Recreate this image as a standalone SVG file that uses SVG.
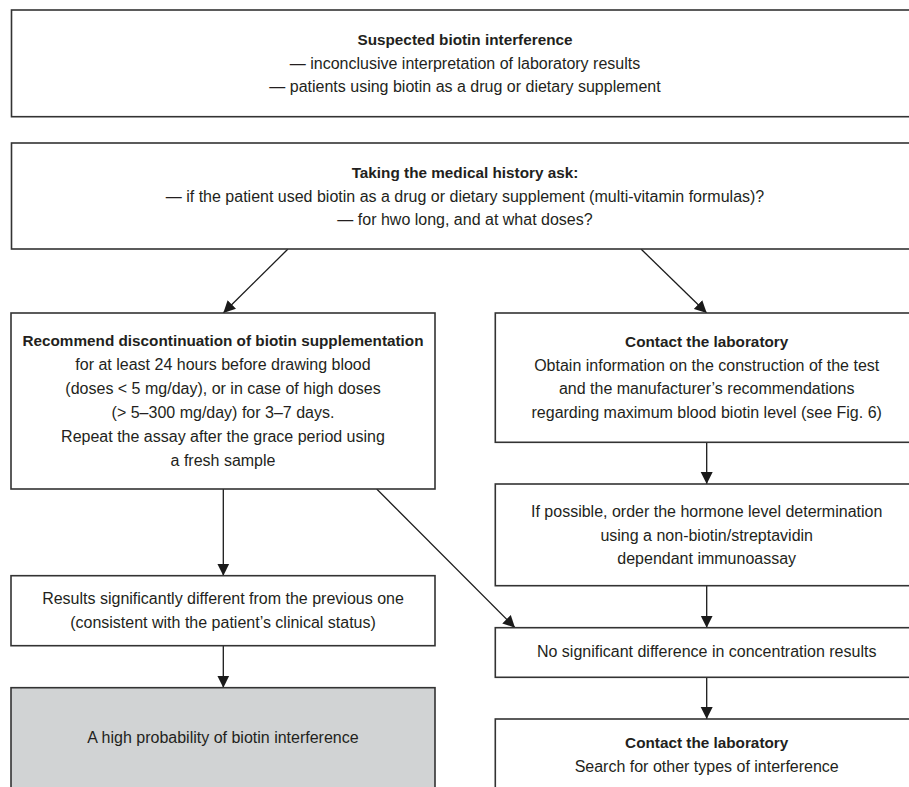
<svg xmlns="http://www.w3.org/2000/svg" width="909" height="787" viewBox="0 0 909 787">
<style>
.box{fill:#ffffff;stroke:#333333;stroke-width:1.6}
.gray{fill:#d1d3d4;stroke:#333333;stroke-width:1.6}
text{font-family:"Liberation Sans",Arial,sans-serif;font-size:16px;fill:#231f20;text-anchor:middle}
.b{font-weight:bold;font-size:15.3px}
.con{stroke:#1a1a1a;stroke-width:1.3;fill:none;marker-end:url(#ah)}
</style>
<defs>
<marker id="ah" markerUnits="userSpaceOnUse" markerWidth="13" markerHeight="13" refX="12" refY="6.5" orient="auto" viewBox="0 0 13 13">
<path d="M0,0.5 L12,6.5 L0,12.5 z" fill="#1a1a1a"/>
</marker>
</defs>
<rect width="909" height="787" fill="#ffffff"/>
<g id="connectors">
<line class="con" x1="288" y1="249" x2="223.3" y2="313"/>
<line class="con" x1="641" y1="249" x2="706.7" y2="313"/>
<line class="con" x1="706.7" y1="442.3" x2="706.7" y2="484"/>
<line class="con" x1="706.7" y1="585.7" x2="706.7" y2="627.7"/>
<line class="con" x1="706.7" y1="677.3" x2="706.7" y2="719"/>
<line class="con" x1="223.3" y1="489" x2="223.3" y2="575.7"/>
<line class="con" x1="223.3" y1="645.7" x2="223.3" y2="687.7"/>
<line class="con" x1="376.7" y1="489" x2="515" y2="627.7"/>
</g>
<g id="n1">
<rect class="box" x="11.5" y="10" width="910" height="106.7"/>
<text class="b" x="465" y="45">Suspected biotin interference</text>
<text x="465" y="68.5">— inconclusive interpretation of laboratory results</text>
<text x="465" y="92">— patients using biotin as a drug or dietary supplement</text>
</g>
<g id="n2">
<rect class="box" x="11.5" y="143" width="910" height="106"/>
<text class="b" x="465" y="178">Taking the medical history ask:</text>
<text x="465" y="201.5">— if the patient used biotin as a drug or dietary supplement (multi-vitamin formulas)?</text>
<text x="465" y="225">— for hwo long, and at what doses?</text>
</g>
<g id="n3">
<rect class="box" x="11" y="313" width="424" height="176"/>
<text class="b" x="223" y="346">Recommend discontinuation of biotin supplementation</text>
<text x="223" y="370">for at least 24 hours before drawing blood</text>
<text x="223" y="394">(doses &lt; 5 mg/day), or in case of high doses</text>
<text x="223" y="418">(&gt; 5–300 mg/day) for 3–7 days.</text>
<text x="223" y="442">Repeat the assay after the grace period using</text>
<text x="223" y="466">a fresh sample</text>
</g>
<g id="n4">
<rect class="box" x="495.3" y="313" width="430" height="129.3"/>
<text class="b" x="706.7" y="346.5">Contact the laboratory</text>
<text x="706.7" y="370.5">Obtain information on the construction of the test</text>
<text x="706.7" y="394">and the manufacturer’s recommendations</text>
<text x="706.7" y="417.5">regarding maximum blood biotin level (see Fig. 6)</text>
</g>
<g id="n5">
<rect class="box" x="495.3" y="484" width="430" height="101.7"/>
<text x="706.7" y="517.3">If possible, order the hormone level determination</text>
<text x="706.7" y="540.7">using a non-biotin/streptavidin</text>
<text x="706.7" y="564">dependant immunoassay</text>
</g>
<g id="n6">
<rect class="box" x="495.3" y="627.7" width="430" height="49.6"/>
<text x="706.7" y="657.3">No significant difference in concentration results</text>
</g>
<g id="n7">
<rect class="box" x="495.3" y="719" width="430" height="100"/>
<text class="b" x="706.7" y="748.3">Contact the laboratory</text>
<text x="706.7" y="771.7">Search for other types of interference</text>
</g>
<g id="n8">
<rect class="box" x="11" y="575.7" width="424" height="70"/>
<text x="223" y="604">Results significantly different from the previous one</text>
<text x="223" y="627.5">(consistent with the patient’s clinical status)</text>
</g>
<g id="n9">
<rect class="gray" x="11" y="687.7" width="424" height="130"/>
<text x="223" y="743.3">A high probability of biotin interference</text>
</g>
</svg>
